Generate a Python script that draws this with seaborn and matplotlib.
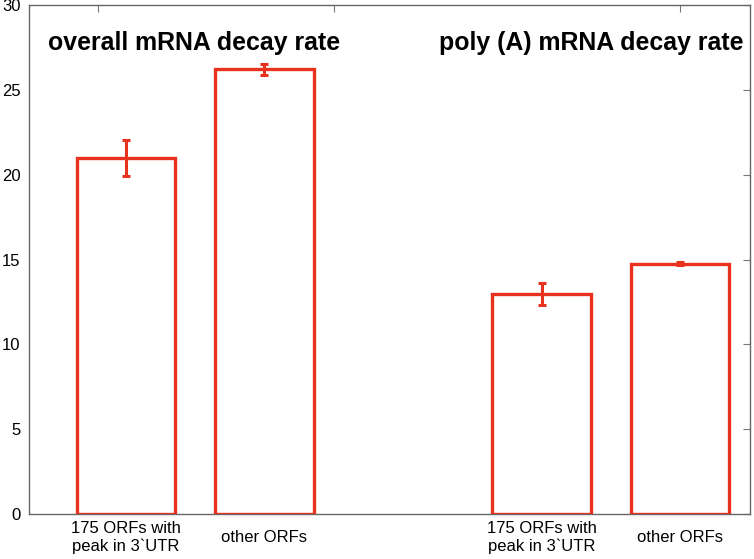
import matplotlib
matplotlib.use("Agg")
import matplotlib.pyplot as plt
import seaborn as sns

# bar data (two panels side by side, a gap between them)
positions = [0, 1, 3, 4]
labels = ["175 ORFs with\npeak in 3`UTR", "other ORFs", "175 ORFs with\npeak in 3`UTR", "other ORFs"]
rates = [21.0, 26.2, 12.95, 14.75]
errors = [1.05, 0.35, 0.65, 0.1]
titles = ["overall mRNA decay rate", "poly (A) mRNA decay rate"]

red = "#e8321e"

sns.set_style("white")
plt.rcParams["font.family"] = ["Liberation Sans", "DejaVu Sans"]
plt.rcParams["text.color"] = "black"
plt.rcParams["xtick.color"] = "black"
plt.rcParams["ytick.color"] = "black"

fig = plt.figure(figsize=(7.54, 5.59), dpi=100)
ax = fig.add_axes([29 / 754, 45 / 559, 721 / 754, 509 / 559])

sns.barplot(x=positions, y=rates, native_scale=True, width=0.71, fill=False,
            color=red, linewidth=2.4, ax=ax, zorder=3)
ax.errorbar(positions, rates, yerr=errors, fmt="none", ecolor=red,
            elinewidth=2.2, capsize=3, capthick=2.2, zorder=4)

ax.set_xlim(-0.70, 4.505)
ax.set_ylim(0, 30)
ax.set_yticks([0, 5, 10, 15, 20, 25, 30])
ax.set_xticks([-0.2, 1.5, 4.0])
ax.set_xticklabels([])
ax.tick_params(direction="in", length=5, width=0.8, color="#777777",
               labelcolor="black", top=True, right=True, labelsize=12, pad=6)
ax.set_xlabel("")
ax.set_ylabel("")
for sp in ax.spines.values():
    sp.set_color("#666666")
    sp.set_linewidth(1.0)
    sp.set_visible(True)

# category labels under the bars
for p, lab in zip(positions, labels):
    ax.text(p, -0.046, lab, transform=ax.get_xaxis_transform(), ha="center",
            va="center", fontsize=12, linespacing=1.25, color="black")

ax.text(-0.563, 27.35, titles[0], fontsize=17.9, fontweight="bold",
        va="baseline", color="black")
ax.text(2.26, 27.35, titles[1], fontsize=17.9, fontweight="bold",
        va="baseline", color="black")

fig.savefig("out.png", dpi=100)
